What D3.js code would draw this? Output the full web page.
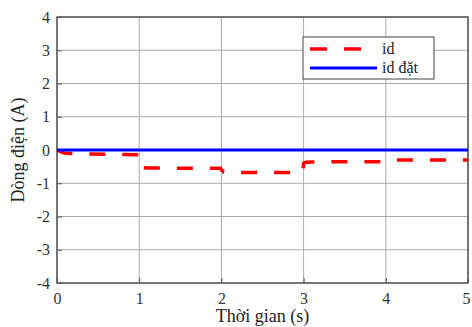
<!DOCTYPE html>
<html>
<head>
<meta charset="utf-8">
<script src="https://cdn.jsdelivr.net/npm/d3@7"></script>
<style>
body{margin:0;background:#fff;}
svg text{font-family:"Liberation Serif","Times New Roman",serif !important;fill:#222;}
</style>
</head>
<body>
<svg id="chart" width="472" height="327"></svg>
<script>
// time (s) and measured current id (A)
let time = [0, 0.05, 0.1, 0.3, 0.6, 0.99, 1.0, 1.02, 1.1, 1.5, 1.99, 2.0, 2.03, 2.1, 2.5, 2.99, 3.0, 3.03, 3.1, 3.5, 3.99, 4.0, 4.03, 4.1, 4.5, 5.0];
let idVals = [0, -0.06, -0.1, -0.12, -0.13, -0.14, -0.5, -0.53, -0.54, -0.55, -0.55, -0.6, -0.66, -0.68, -0.68, -0.68, -0.4, -0.37, -0.36, -0.35, -0.35, -0.33, -0.3, -0.3, -0.3, -0.3];
// reference current id dat
let refTime = [0, 5];
let refVals = [0, 0];
let xTicks = [0, 1, 2, 3, 4, 5];
let yTicks = [-4, -3, -2, -1, 0, 1, 2, 3, 4];
let legendNames = ["id", "id đặt"];

let margin = {top: 17, right: 4, bottom: 44, left: 57};
let svg = d3.select("#chart");
let W = +svg.attr("width"), H = +svg.attr("height");
let w = W - margin.left - margin.right, h = H - margin.top - margin.bottom;

let x = d3.scaleLinear().domain([0, 5]).range([0, w]);
let y = d3.scaleLinear().domain([-4, 4]).range([h, 0]);

let g = svg.append("g").attr("transform", `translate(${margin.left},${margin.top})`);

// grid
g.selectAll(".gx").data(xTicks).join("line")
  .attr("x1", d => x(d)).attr("x2", d => x(d))
  .attr("y1", 0).attr("y2", h)
  .attr("stroke", "#aaa").attr("stroke-width", 1);
g.selectAll(".gy").data(yTicks).join("line")
  .attr("class", "gy")
  .attr("x1", 0).attr("x2", w)
  .attr("y1", d => y(d)).attr("y2", d => y(d))
  .attr("stroke", "#aaa").attr("stroke-width", 1);

// axes
let fmt = d => String(d);
let xAxis = g.append("g").attr("transform", `translate(0,${h})`)
  .call(d3.axisBottom(x).tickValues(xTicks).tickFormat(fmt).tickSizeInner(-5).tickSizeOuter(0).tickPadding(10));
let yAxis = g.append("g")
  .call(d3.axisLeft(y).tickValues(yTicks).tickFormat(fmt).tickSizeInner(-5).tickSizeOuter(0).tickPadding(7));
[xAxis, yAxis].forEach(a => {
  a.attr("font-family", null).attr("font-size", null);
  a.select(".domain").remove();
  a.selectAll("line").attr("stroke", "#555");
  a.selectAll("text").style("font-size", "16px").style("fill", "#333");
});
xAxis.selectAll("text").filter(d => d === 5).attr("dx", -2);

// frame
g.append("rect").attr("width", w).attr("height", h)
  .attr("fill", "none").attr("stroke", "#555").attr("stroke-width", 1.5);

let line = d3.line().x(d => x(d[0])).y(d => y(d[1]));

g.append("path")
  .datum(time.map((t, i) => [t, idVals[i]]))
  .attr("d", line).attr("fill", "none")
  .attr("stroke", "#ff0000").attr("stroke-width", 3.5)
  .attr("stroke-dasharray", "16,17");

g.append("path")
  .datum(refTime.map((t, i) => [t, refVals[i]]))
  .attr("d", line).attr("fill", "none")
  .attr("stroke", "#0000ff").attr("stroke-width", 3);

// legend
let lg = svg.append("g").attr("transform", "translate(303,37)");
lg.append("rect").attr("width", 131).attr("height", 42)
  .attr("fill", "#fff").attr("stroke", "#444").attr("stroke-width", 1);
lg.append("line").attr("x1", 7).attr("x2", 59).attr("y1", 12).attr("y2", 12)
  .attr("stroke", "#ff0000").attr("stroke-width", 3.5).attr("stroke-dasharray", "17,17");
lg.append("line").attr("x1", 7).attr("x2", 74).attr("y1", 31).attr("y2", 31)
  .attr("stroke", "#0000ff").attr("stroke-width", 3);
lg.selectAll("text.lt").data(legendNames).join("text")
  .attr("class", "lt")
  .attr("x", 79).attr("y", (d, i) => 17 + i * 19)
  .attr("font-size", 16).text(d => d);

// axis titles
svg.append("text").attr("x", margin.left + w / 2).attr("y", 322)
  .attr("text-anchor", "middle").attr("font-size", 18).text("Thời gian (s)");
svg.append("text").attr("transform", `translate(24,${margin.top + h / 2}) rotate(-90)`)
  .attr("text-anchor", "middle").attr("font-size", 18).text("Dòng điện (A)");
</script>
</body>
</html>
